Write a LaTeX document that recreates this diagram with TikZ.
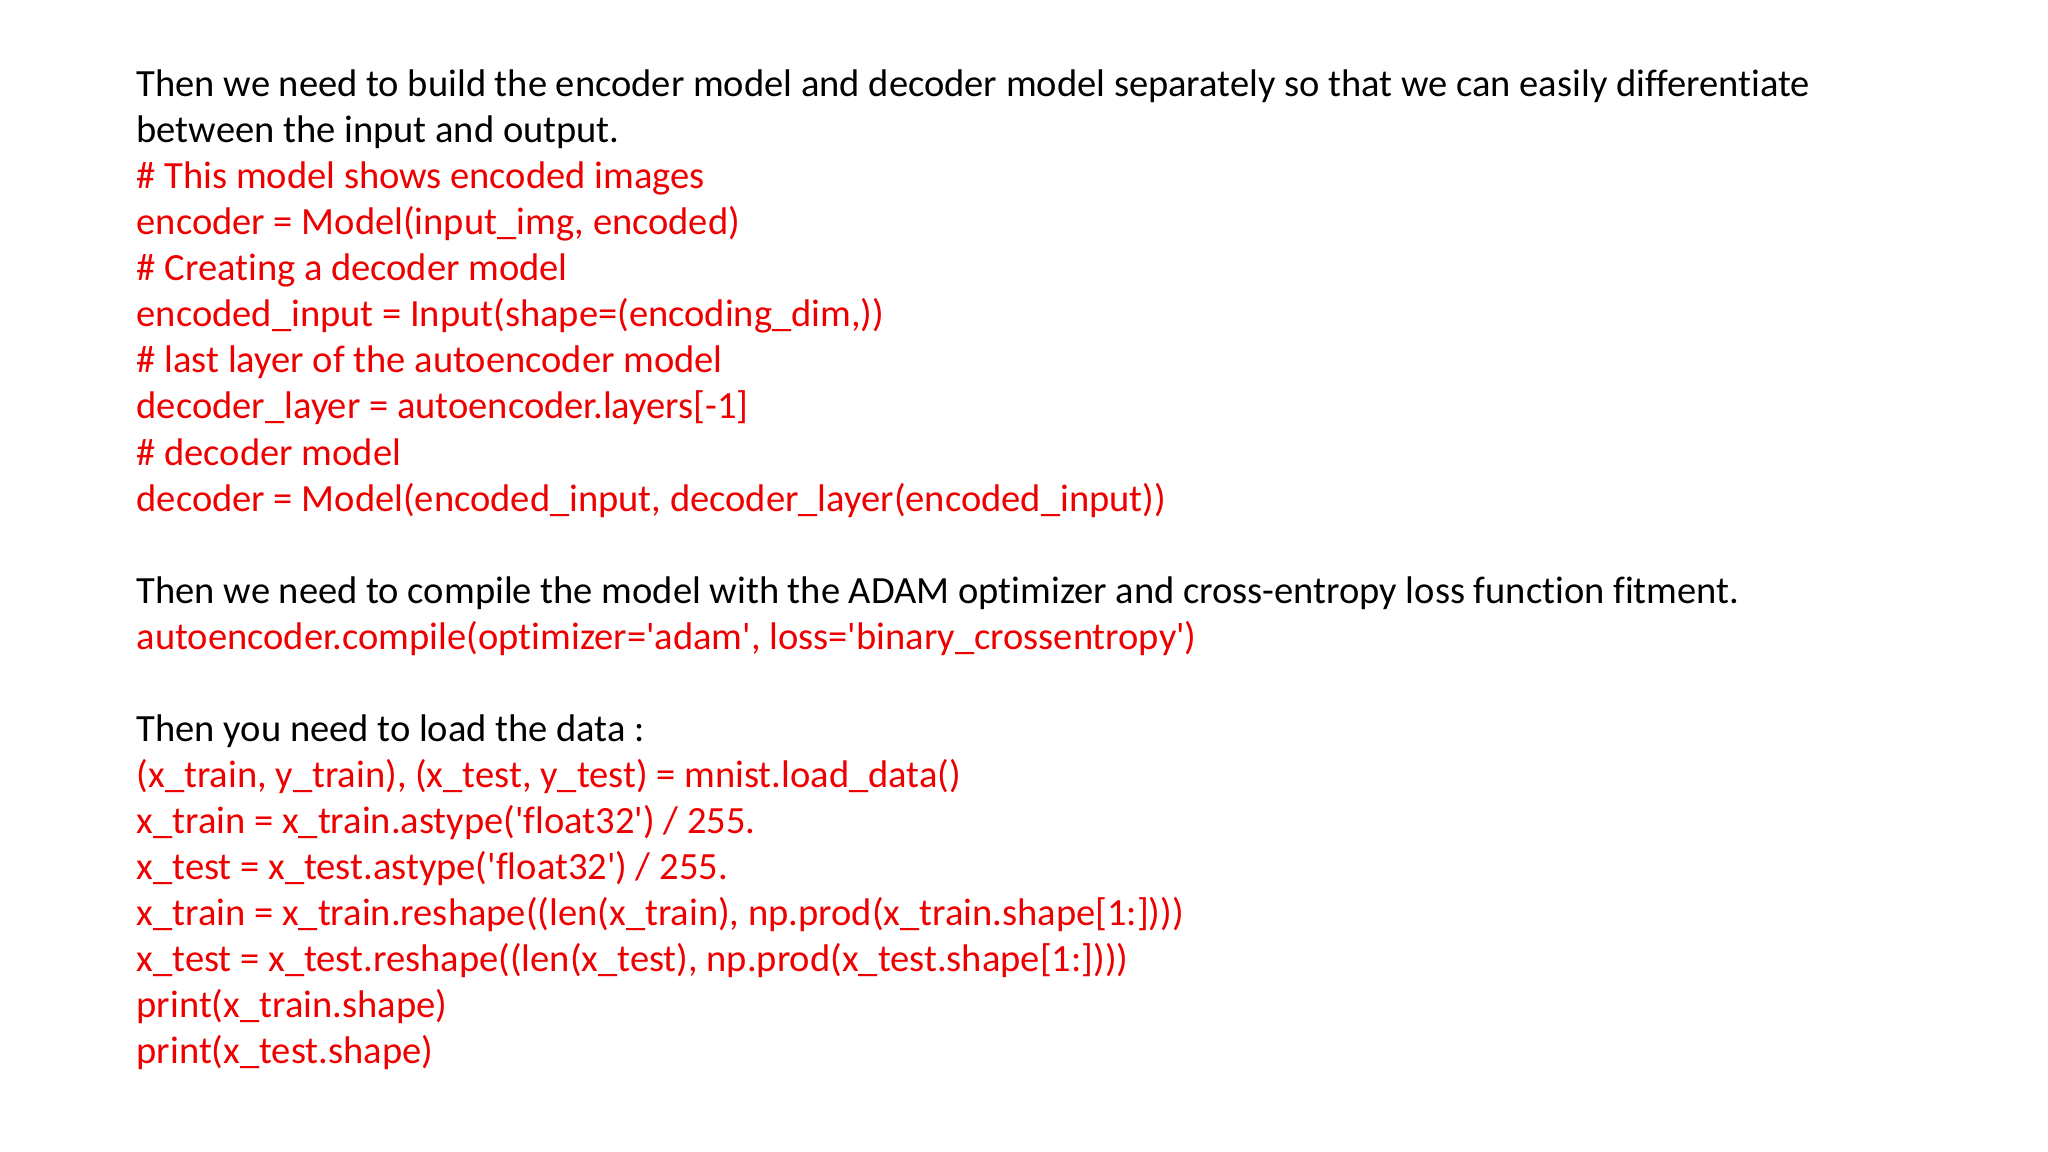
\documentclass[tikz,border=0pt]{standalone}
\usepackage{fontspec}
\setmainfont{Carlito}[Ligatures={NoCommon}]
\definecolor{codered}{RGB}{238,0,0}
\newcommand{\sq}{\textquotesingle}
\begin{document}
\begin{tikzpicture}[x=1cm,y=1cm,
  ln/.style={anchor=base west,inner sep=0pt,font=\fontsize{10.96pt}{13pt}\selectfont},
  cd/.style={ln,text=codered}]
\useasboundingbox (0,0) rectangle (20.48,-11.52);
\def\L#1{-0.967-0.4604*(#1-1)}
\node[ln] (l1) at (1.36,{\L{1}}) {Then we need to build the encoder model and decoder model separately so that we can easily differentiate};
\node[ln] (l2) at (1.36,{\L{2}}) {between the input and output.};
\node[cd] (l3) at (1.36,{\L{3}}) {\# This model shows encoded images};
\node[cd] (l4) at (1.36,{\L{4}}) {encoder = Model(input\_img, encoded)};
\node[cd] (l5) at (1.36,{\L{5}}) {\# Creating a decoder model};
\node[cd] (l6) at (1.36,{\L{6}}) {encoded\_input = Input(shape=(encoding\_dim,))};
\node[cd] (l7) at (1.36,{\L{7}}) {\# last layer of the autoencoder model};
\node[cd] (l8) at (1.36,{\L{8}}) {decoder\_layer = autoencoder.layers[-1]};
\node[cd] (l9) at (1.36,{\L{9}}) {\# decoder model};
\node[cd] (l10) at (1.36,{\L{10}}) {decoder = Model(encoded\_input, decoder\_layer(encoded\_input))};
\node[ln] (l12) at (1.36,{\L{12}}) {Then we need to compile the model with the ADAM optimizer and cross-entropy loss function fitment.};
\node[cd] (l13) at (1.36,{\L{13}}) {autoencoder.compile(optimizer=\sq adam\sq, loss=\sq binary\_crossentropy\sq)};
\node[ln] (l15) at (1.36,{\L{15}}) {Then you need to load the data :};
\node[cd] (l16) at (1.36,{\L{16}}) {(x\_train, y\_train), (x\_test, y\_test) = mnist.load\_data()};
\node[cd] (l17) at (1.36,{\L{17}}) {x\_train = x\_train.astype(\sq float32\sq) / 255.};
\node[cd] (l18) at (1.36,{\L{18}}) {x\_test = x\_test.astype(\sq float32\sq) / 255.};
\node[cd] (l19) at (1.36,{\L{19}}) {x\_train = x\_train.reshape((len(x\_train), np.prod(x\_train.shape[1:])))};
\node[cd] (l20) at (1.36,{\L{20}}) {x\_test = x\_test.reshape((len(x\_test), np.prod(x\_test.shape[1:])))};
\node[cd] (l21) at (1.36,{\L{21}}) {print(x\_train.shape)};
\node[cd] (l22) at (1.36,{\L{22}}) {print(x\_test.shape)};
\end{tikzpicture}
\end{document}
